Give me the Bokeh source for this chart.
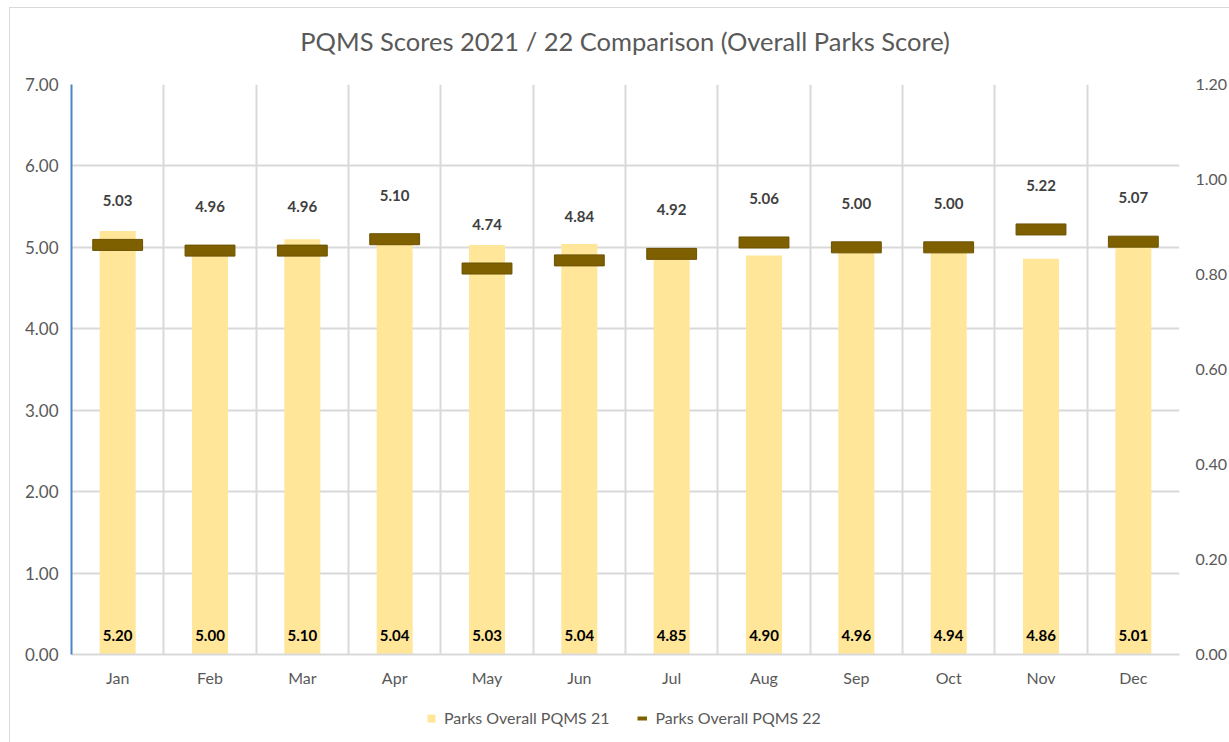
from bokeh.plotting import figure
from bokeh.layouts import column
from bokeh.models import (Range1d, LinearAxis, FixedTicker, NumeralTickFormatter,
                          Legend, LegendItem, ColumnDataSource, Label)
from bokeh.core.properties import value
from bokeh.embed import file_html
from bokeh.resources import INLINE

title_text = "PQMS Scores 2021 / 22 Comparison (Overall Parks Score)"
months = ["Jan", "Feb", "Mar", "Apr", "May", "Jun", "Jul", "Aug", "Sep", "Oct", "Nov", "Dec"]
pqms21 = [5.20, 5.00, 5.10, 5.04, 5.03, 5.04, 4.85, 4.90, 4.96, 4.94, 4.86, 5.01]
pqms22 = [5.03, 4.96, 4.96, 5.10, 4.74, 4.84, 4.92, 5.06, 5.00, 5.00, 5.22, 5.07]
left_ticks = [0, 1, 2, 3, 4, 5, 6, 7]
right_ticks = [0.0, 0.2, 0.4, 0.6, 0.8, 1.0, 1.2]
series_names = ["Parks Overall PQMS 21", "Parks Overall PQMS 22"]

FONT = "Lato"
GREY = "#595959"
BAR_COLOR = "#FFE699"
MARK_COLOR = "#7F6000"
W = 1220

xs = [i + 0.5 for i in range(len(months))]
src = ColumnDataSource(dict(
    x=xs, m=months, v21=pqms21, v22=pqms22,
    base=[0] * len(months),
    t21=[f"{v:.2f}" for v in pqms21],
    t22=[f"{v:.2f}" for v in pqms22],
))

# ---- title strip ----
tf = figure(width=W, height=58, output_backend="svg", toolbar_location=None,
            x_range=Range1d(0, W), y_range=Range1d(0, 58),
            x_axis_type=None, y_axis_type=None,
            min_border_left=0, min_border_right=0, min_border_top=0, min_border_bottom=0)
tf.outline_line_color = None
tf.grid.visible = False
tf.add_layout(Label(x=609.5, y=26, text=title_text, text_align="center", text_baseline="middle",
                    text_font=FONT, text_font_size="25.5px", text_color=GREY))

# ---- main chart ----
p = figure(width=W, height=637, output_backend="svg", toolbar_location=None,
           x_range=Range1d(0, len(months)), y_range=Range1d(0, 7),
           min_border_left=61, min_border_right=50, min_border_top=18, min_border_bottom=49)
p.outline_line_color = None
p.background_fill_color = "white"
p.border_fill_color = "white"

p.extra_y_ranges = {"right": Range1d(0, 1.2)}
ra = LinearAxis(y_range_name="right")
p.add_layout(ra, "right")

for ax in p.yaxis:
    ax.major_tick_line_color = None
    ax.minor_tick_line_color = None
    ax.major_tick_out = 0
    ax.major_tick_in = 0
    ax.minor_tick_out = 0
    ax.minor_tick_in = 0
    ax.major_label_text_font = FONT
    ax.major_label_text_color = GREY
    ax.formatter = NumeralTickFormatter(format="0.00")
p.yaxis[0].ticker = FixedTicker(ticks=left_ticks)
p.yaxis[0].axis_line_color = "#4A86C8"
p.yaxis[0].axis_line_width = 2
p.yaxis[0].major_label_standoff = 13
p.yaxis[0].major_label_text_font_size = "17px"
ra.ticker = FixedTicker(ticks=right_ticks)
ra.axis_line_color = None
ra.major_label_standoff = 16
ra.major_label_text_font_size = "16px"

xa = p.xaxis[0]
xa.ticker = FixedTicker(ticks=xs)
xa.major_label_overrides = {x: m for x, m in zip(xs, months)}
xa.major_tick_line_color = None
xa.minor_tick_line_color = None
xa.major_tick_out = 0
xa.major_tick_in = 0
xa.minor_tick_out = 0
xa.minor_tick_in = 0
xa.axis_line_color = "#D9D9D9"
xa.axis_line_width = 2
xa.major_label_text_font = FONT
xa.major_label_text_font_size = "16px"
xa.major_label_text_color = GREY
xa.major_label_standoff = 13

p.xgrid.ticker = FixedTicker(ticks=list(range(len(months) + 1)))
p.ygrid.ticker = FixedTicker(ticks=left_ticks)
for g in (p.xgrid[0], p.ygrid[0]):
    g.grid_line_color = "#D9D9D9"
    g.grid_line_width = 2

p.vbar(x="x", top="v21", width=0.39, bottom=0, source=src,
       fill_color=BAR_COLOR, line_color=None)
p.rect(x="x", y="v22", width=0.54, height=11, height_units="screen",
       source=src, fill_color=MARK_COLOR, line_color="#6B5200", line_width=1)

p.text(x="x", y="v22", text="t22", source=src, text_align="center", text_baseline="middle",
       y_offset=-44, text_font=value(FONT), text_font_size="15px", text_font_style="bold",
       text_color="#404040")
p.text(x="x", y="base", text="t21", source=src, text_align="center", text_baseline="middle",
       y_offset=-19, text_font=value(FONT), text_font_size="15px", text_font_style="bold",
       text_color="#000000")

# ---- legend strip ----
lf = figure(width=W, height=40, output_backend="svg", toolbar_location=None,
            x_range=Range1d(0, 1), y_range=Range1d(0, 1),
            x_axis_type=None, y_axis_type=None,
            min_border_left=0, min_border_right=0, min_border_top=0, min_border_bottom=0)
lf.outline_line_color = None
lf.grid.visible = False
nan = float("nan")
r21 = lf.vbar(x=[nan], top=[nan], bottom=[nan], width=0.1,
              fill_color=BAR_COLOR, line_color=None)
r22 = lf.line(x=[nan, nan], y=[nan, nan], line_color=MARK_COLOR, line_width=4)
legend = Legend(items=[LegendItem(label=series_names[0], renderers=[r21]),
                       LegendItem(label=series_names[1], renderers=[r22])],
                orientation="horizontal", location=(355, 16),
                label_text_font=FONT, label_text_font_size="16px", label_text_color=GREY,
                glyph_width=10, glyph_height=10, spacing=28, border_line_color=None,
                background_fill_alpha=0, margin=0, padding=4, label_standoff=8)
lf.add_layout(legend, "center")

layout = column(tf, p, lf, spacing=0)
layout.styles = {"margin-left": "9px", "margin-top": "7px",
                 "border-left": "1px solid #D9D9D9", "border-top": "1px solid #D9D9D9",
                 "box-sizing": "border-box"}

open("out.html", "w").write(file_html(layout, INLINE))
